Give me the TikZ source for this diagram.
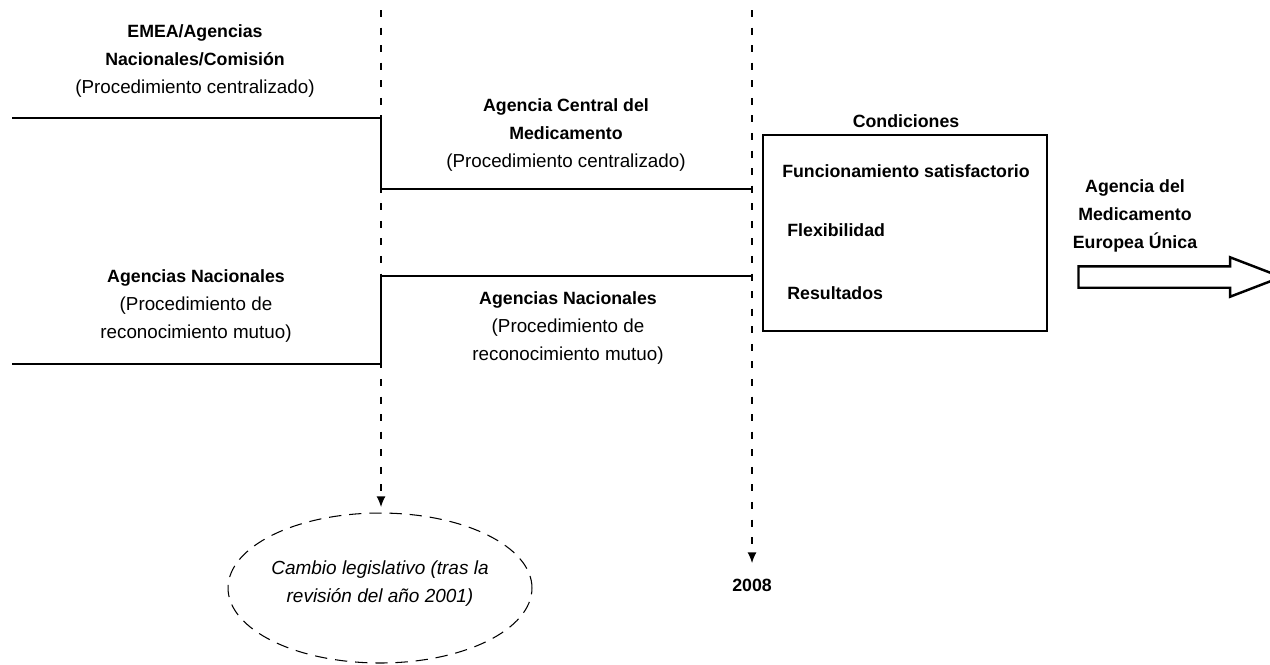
\documentclass[tikz,border=0pt]{standalone}
\usepackage{fontspec}
\setmainfont{Liberation Sans}
\usetikzlibrary{shapes, arrows, arrows.meta, positioning}

\tikzset{
  lbl/.style={align=center, inner sep=0pt, font=\fontsize{10.7}{15.9}\selectfont},
  blbl/.style={lbl, font=\fontsize{10.1}{15.9}\selectfont\bfseries},
  timeline/.style={draw, line width=0.6pt, dash pattern=on 4pt off 6pt, -{Latex[length=6pt,width=5pt]}},
  stage/.style={draw, line width=0.7pt}
}

\begin{document}
\begin{tikzpicture}[x=0.02cm, y=-0.02cm]
  \useasboundingbox (0,0) rectangle (1270,664);

  % Nodes
  \node [lbl] (emea) at (195,61) {\textbf{\fontsize{10.1}{15.9}\selectfont EMEA/Agencias}\\\textbf{\fontsize{10.1}{15.9}\selectfont Nacionales/Comisión}\\(Procedimiento centralizado)};
  \node [lbl] (nacl) at (196,306) {\textbf{\fontsize{10.1}{15.9}\selectfont Agencias Nacionales}\\(Procedimiento de\\reconocimiento mutuo)};
  \node [lbl] (central) at (566,135) {\textbf{\fontsize{10.1}{15.9}\selectfont Agencia Central del}\\\textbf{\fontsize{10.1}{15.9}\selectfont Medicamento}\\(Procedimiento centralizado)};
  \node [lbl] (nacr) at (568,328) {\textbf{\fontsize{10.1}{15.9}\selectfont Agencias Nacionales}\\(Procedimiento de\\reconocimiento mutuo)};
  \node [rectangle, draw, line width=1.3pt, minimum width=5.68cm, minimum height=3.92cm] (cond) at (905,233) {};
  \node [blbl] (condt) at (906,121) {Condiciones};
  \node [blbl] (func) at (906,171) {Funcionamiento satisfactorio};
  \node [blbl, anchor=west] (flex) at (787,230) {Flexibilidad};
  \node [blbl, anchor=west] (res) at (787,293) {Resultados};
  \node [blbl] (unica) at (1135,216) {Agencia del\\Medicamento\\Europea Única};
  \node [single arrow, draw, line width=1.4pt, inner sep=0.19cm, minimum height=4.06cm, single arrow head extend=0.18cm, single arrow tip angle=42] (bigarrow) at (1166,277) {};
  \node [ellipse, draw, line width=0.6pt, dash pattern=on 7pt off 4.5pt, minimum width=6.08cm, minimum height=3cm] (cambio) at (380,588) {};
  \node [lbl, font=\fontsize{10.8}{15.9}\selectfont\itshape] (cambiot) at (380,584) {Cambio legislativo (tras la\\revisión del año 2001)};
  \node [blbl] (anio) at (752,585) {2008};

  % Coordinates
  \coordinate (t1) at (381,10);
  \coordinate (b1) at (381,507);
  \coordinate (t2) at (752,10);
  \coordinate (b2) at (752,563);
  \coordinate (a0) at (12,118);
  \coordinate (a1) at (381,118);
  \coordinate (a2) at (381,189);
  \coordinate (a3) at (752,189);
  \coordinate (c0) at (12,364);
  \coordinate (c1) at (381,364);
  \coordinate (c2) at (381,276);
  \coordinate (c3) at (752,276);

  % Edges
  \draw [timeline] (t1) -- (b1);
  \draw [timeline] (t2) -- (b2);
  \draw [stage] (a0) -- (a1) -- (a2) -- (a3);
  \draw [stage] (c0) -- (c1) -- (c2) -- (c3);
\end{tikzpicture}
\end{document}
